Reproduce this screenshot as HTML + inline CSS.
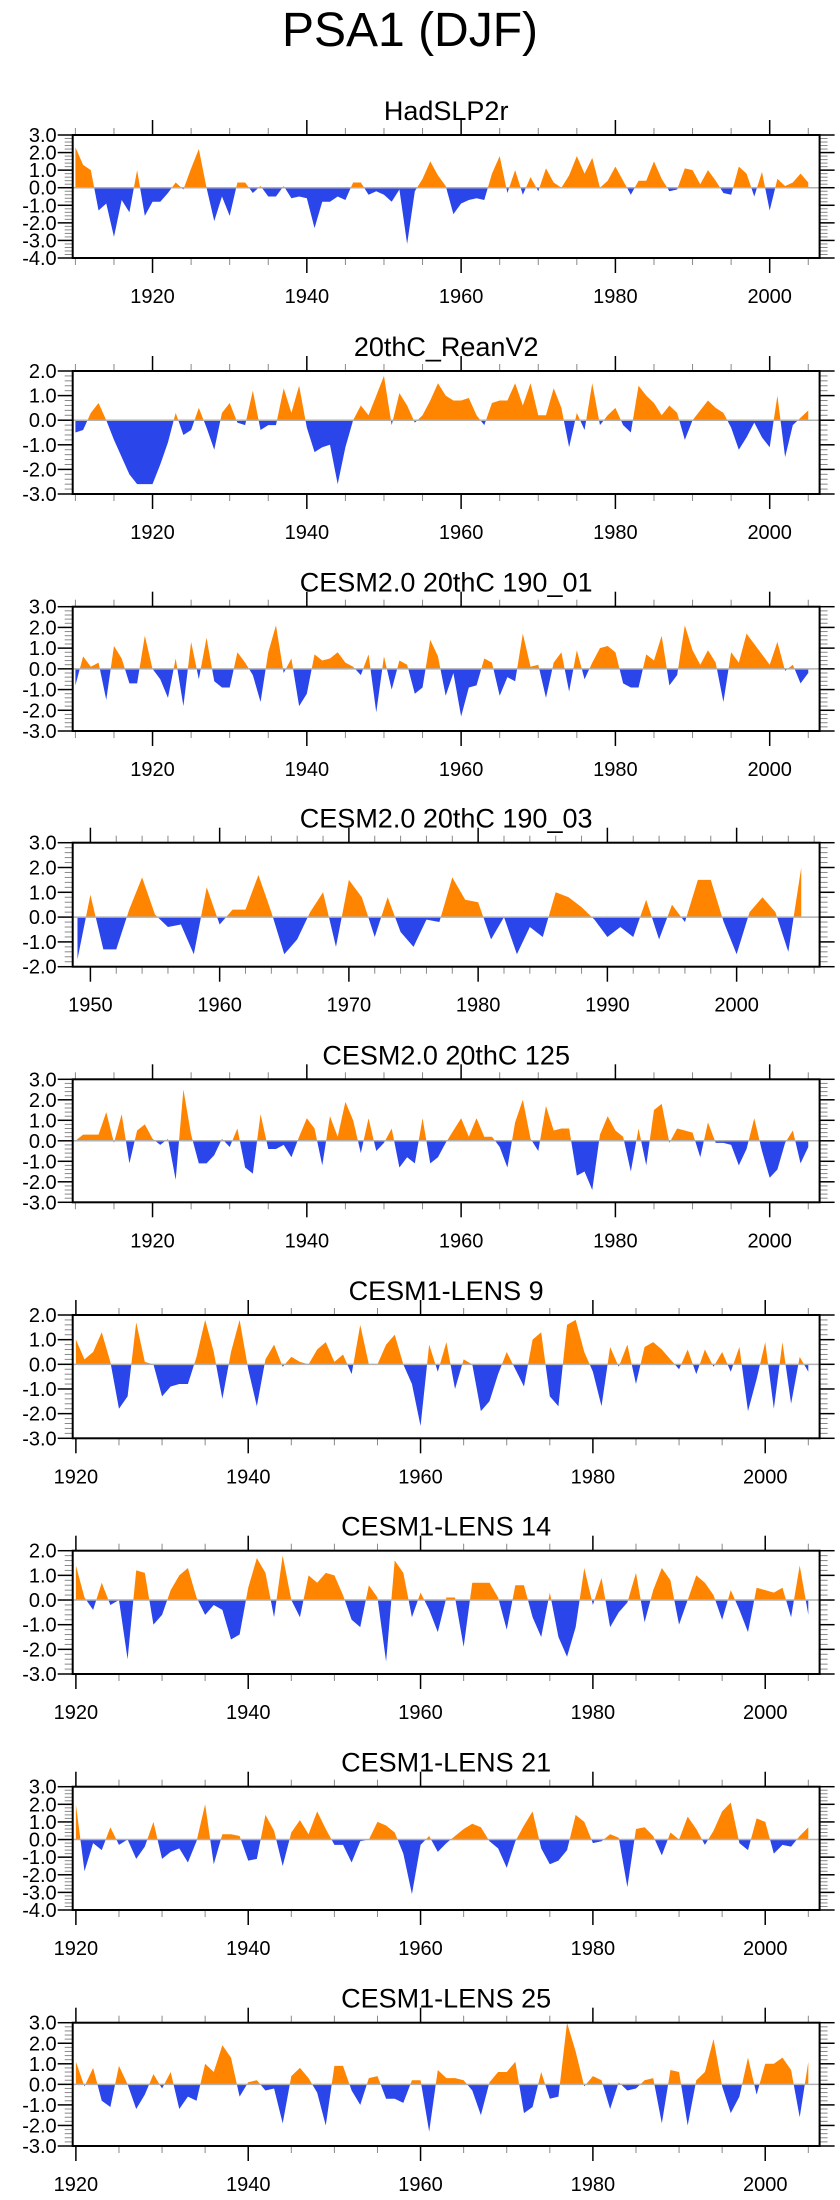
<!DOCTYPE html>
<html>
<head>
<meta charset="utf-8">
<style>
html,body{margin:0;padding:0;background:#fff;}
svg{display:block;}
text{font-family:"Liberation Sans",Arial,sans-serif;fill:#000;}
</style>
</head>
<body>
<svg id="chart" width="840" height="2200" viewBox="0 0 840 2200" xmlns="http://www.w3.org/2000/svg">
<text x="410" y="46" font-size="48" text-anchor="middle">PSA1 (DJF)</text>
</svg>
<script>
// ---- data ----
const yearsA = Array.from({length:96},(_,i)=>1910+i);
const yearsB = Array.from({length:57},(_,i)=>1949+i);
const yearsC = Array.from({length:86},(_,i)=>1920+i);

const hadslp2r = [2.3,1.3,1.0,-1.3,-0.9,-2.8,-0.7,-1.4,1.0,-1.6,-0.8,-0.8,-0.3,0.3,-0.1,1.1,2.2,0.0,-1.9,-0.5,-1.6,0.3,0.3,-0.3,0.1,-0.5,-0.5,0.1,-0.6,-0.5,-0.6,-2.3,-0.8,-0.8,-0.5,-0.7,0.3,0.3,-0.4,-0.2,-0.4,-0.8,-0.1,-3.2,-0.2,0.5,1.5,0.7,0.1,-1.5,-0.9,-0.7,-0.6,-0.7,0.8,1.8,-0.3,1.0,-0.4,0.6,-0.2,1.1,0.3,0.0,0.7,1.8,0.8,1.7,0.0,0.4,1.2,0.4,-0.4,0.4,0.4,1.5,0.5,-0.2,-0.1,1.1,1.0,0.2,1.0,0.4,-0.3,-0.4,1.2,0.8,-0.5,0.9,-1.3,0.5,0.1,0.3,0.8,0.3];
const reanV2 = [-0.5,-0.4,0.3,0.7,0.0,-0.8,-1.5,-2.2,-2.6,-2.6,-2.6,-1.8,-0.9,0.3,-0.6,-0.4,0.5,-0.3,-1.2,0.3,0.7,-0.1,-0.2,1.2,-0.4,-0.2,-0.2,1.3,0.3,1.4,-0.3,-1.3,-1.1,-1.0,-2.6,-1.1,0.0,0.6,0.2,1.0,1.8,-0.2,1.1,0.6,-0.1,0.2,0.8,1.5,1.0,0.8,0.8,0.9,0.2,-0.2,0.7,0.8,0.8,1.5,0.6,1.5,0.2,0.2,1.3,0.5,-1.1,0.3,-0.4,1.5,-0.2,0.2,0.5,-0.2,-0.5,1.4,1.0,0.7,0.2,0.6,0.3,-0.8,0.0,0.4,0.8,0.5,0.3,-0.3,-1.2,-0.7,-0.1,-0.7,-1.1,1.0,-1.5,-0.2,0.1,0.4];
const cesm2_190_01 = [-0.8,0.6,0.1,0.3,-1.5,1.1,0.5,-0.7,-0.7,1.6,0.0,-0.5,-1.4,0.5,-1.8,1.3,-0.5,1.5,-0.6,-0.9,-0.9,0.8,0.3,-0.3,-1.6,0.8,2.1,-0.2,0.5,-1.8,-1.2,0.7,0.4,0.5,0.8,0.3,0.1,-0.3,0.7,-2.1,0.6,-1.0,0.4,0.2,-1.2,-0.9,1.4,0.6,-1.3,-0.2,-2.3,-0.9,-0.8,0.5,0.3,-1.3,-0.4,-0.6,1.7,0.1,0.2,-1.4,0.3,0.8,-1.1,0.9,-0.5,0.3,1.0,1.1,0.8,-0.7,-0.9,-0.9,0.7,0.4,1.6,-0.8,-0.3,2.1,0.9,0.2,0.9,0.3,-1.6,0.8,0.3,1.7,1.2,0.7,0.2,1.3,-0.1,0.2,-0.7,-0.2];
const cesm2_190_03 = [-1.7,0.9,-1.3,-1.3,0.3,1.6,0.1,-0.4,-0.3,-1.5,1.2,-0.3,0.3,0.3,1.7,0.2,-1.5,-0.9,0.2,1.0,-1.2,1.5,0.8,-0.8,0.8,-0.6,-1.2,-0.1,-0.2,1.6,0.7,0.6,-0.9,0.0,-1.5,-0.4,-0.8,1.0,0.8,0.4,-0.1,-0.8,-0.4,-0.8,0.7,-0.9,0.5,-0.2,1.5,1.5,-0.2,-1.5,0.2,0.8,0.2,-1.4,2.0];
const cesm2_125 = [0.0,0.3,0.3,0.3,1.4,-0.1,1.3,-1.1,0.5,0.8,0.1,-0.2,0.1,-1.9,2.5,0.3,-1.1,-1.1,-0.7,0.1,-0.3,0.6,-1.3,-1.6,1.3,-0.4,-0.4,-0.2,-0.8,0.2,1.1,0.6,-1.2,1.2,0.2,1.9,1.0,-0.6,1.1,-0.5,-0.1,0.6,-1.3,-0.8,-1.1,1.1,-1.1,-0.8,-0.1,0.5,1.1,0.2,1.1,0.2,0.2,-0.3,-1.3,0.9,2.0,0.1,-0.5,1.7,0.5,0.6,0.6,-1.7,-1.5,-2.4,0.3,1.2,0.5,0.2,-1.5,0.6,-1.2,1.5,1.8,-0.1,0.6,0.5,0.4,-0.8,0.9,-0.1,-0.1,-0.2,-1.2,-0.4,1.1,-0.5,-1.8,-1.4,-0.1,0.5,-1.1,-0.3];
const lens9 = [1.0,0.2,0.5,1.3,0.1,-1.8,-1.3,1.7,0.1,0.0,-1.3,-0.9,-0.8,-0.8,0.3,1.8,0.5,-1.4,0.5,1.8,-0.2,-1.7,0.2,0.8,-0.1,0.3,0.1,0.0,0.6,0.9,0.1,0.4,-0.4,1.6,0.0,0.0,0.8,1.2,0.0,-0.8,-2.5,0.8,-0.3,0.9,-1.0,0.2,0.0,-1.9,-1.5,-0.4,0.5,-0.2,-0.9,1.0,1.3,-1.3,-1.7,1.6,1.8,0.5,-0.3,-1.7,0.7,-0.1,0.8,-0.8,0.7,0.9,0.6,0.2,-0.2,0.6,-0.4,0.6,-0.1,0.5,-0.3,0.7,-1.9,-0.6,0.9,-1.8,0.9,-1.6,0.3,-0.3];
const lens14 = [1.4,0.1,-0.4,0.7,-0.2,0.0,-2.4,1.2,1.1,-1.0,-0.6,0.4,1.0,1.3,0.1,-0.6,-0.2,-0.4,-1.6,-1.4,0.5,1.7,1.1,-0.7,1.8,0.0,-0.7,1.0,0.7,1.1,1.0,0.2,-0.8,-1.1,0.6,0.1,-2.5,1.6,1.1,-0.7,0.3,-0.4,-1.3,0.1,0.1,-1.9,0.7,0.7,0.7,0.1,-1.2,0.6,0.6,-0.7,-1.5,0.3,-1.5,-2.3,-1.1,1.3,-0.2,0.9,-1.1,-0.5,-0.1,1.1,-0.9,0.4,1.3,0.8,-1.0,0.0,1.0,0.7,0.2,-0.8,0.4,-0.4,-1.3,0.5,0.4,0.3,0.5,-0.7,1.4,-0.6];
const lens21 = [2.0,-1.8,-0.2,-0.6,0.7,-0.3,0.0,-1.1,-0.4,1.0,-1.1,-0.7,-0.5,-1.3,-0.1,2.0,-1.4,0.3,0.3,0.2,-1.2,-1.1,1.4,0.5,-1.5,0.4,1.1,0.3,1.6,0.6,-0.3,-0.3,-1.3,-0.1,0.0,1.0,0.8,0.4,-0.8,-3.1,-0.3,0.2,-0.7,-0.2,0.2,0.6,0.9,0.7,-0.1,-0.5,-1.6,-0.1,0.8,1.6,-0.5,-1.4,-1.2,-0.6,1.4,1.0,-0.2,-0.1,0.3,0.1,-2.7,0.6,0.7,0.2,-0.9,0.4,0.0,1.3,0.6,-0.3,0.5,1.6,2.1,-0.2,-0.6,1.2,1.0,-0.8,-0.3,-0.4,0.2,0.7];
const lens25 = [1.1,-0.1,0.8,-0.8,-1.1,0.9,0.0,-1.2,-0.5,0.5,-0.2,0.6,-1.2,-0.6,-0.8,1.0,0.6,1.9,1.3,-0.6,0.1,0.2,-0.3,-0.2,-1.9,0.4,0.8,0.3,-0.4,-2.0,0.9,0.9,-0.3,-1.0,0.3,0.4,-0.7,-0.7,-0.9,0.2,0.2,-2.3,0.7,0.3,0.3,0.2,-0.3,-1.5,0.1,0.6,0.6,1.1,-1.4,-1.1,0.6,-0.7,-0.6,3.0,1.6,-0.1,0.4,0.2,-1.2,0.1,-0.3,-0.2,0.2,0.3,-1.9,0.7,0.6,-2.0,0.2,0.6,2.2,-0.1,-1.4,-0.6,1.3,-0.5,1.0,1.0,1.3,0.7,-1.6,1.1];

const panelTitles = ["HadSLP2r","20thC_ReanV2","CESM2.0 20thC 190_01","CESM2.0 20thC 190_03","CESM2.0 20thC 125","CESM1-LENS 9","CESM1-LENS 14","CESM1-LENS 21","CESM1-LENS 25"];
const yTickLabelsA = ["-4.0","-3.0","-2.0","-1.0","0.0","1.0","2.0","3.0"];

// ---- layout ----
const NS = "http://www.w3.org/2000/svg";
const svg = document.getElementById('chart');
const L = 72.7, R = 819.6;
const panels = [
  {title:panelTitles[0], years:yearsA, vals:hadslp2r, top:135, bot:258, ymin:-4, ymax:3, x0:1909.65, x1:2006.47, major:20, minor:5, first:1920},
  {title:panelTitles[1], years:yearsA, vals:reanV2, top:371, bot:494, ymin:-3, ymax:2, x0:1909.65, x1:2006.47, major:20, minor:5, first:1920},
  {title:panelTitles[2], years:yearsA, vals:cesm2_190_01, top:606.7, bot:731, ymin:-3, ymax:3, x0:1909.65, x1:2006.47, major:20, minor:5, first:1920},
  {title:panelTitles[3], years:yearsB, vals:cesm2_190_03, top:842.7, bot:966.7, ymin:-2, ymax:3, x0:1948.63, x1:2006.42, major:10, minor:2, first:1950},
  {title:panelTitles[4], years:yearsA, vals:cesm2_125, top:1079.3, bot:1202.3, ymin:-3, ymax:3, x0:1909.65, x1:2006.47, major:20, minor:5, first:1920},
  {title:panelTitles[5], years:yearsC, vals:lens9, top:1315, bot:1438.3, ymin:-3, ymax:2, x0:1919.63, x1:2006.31, major:20, minor:5, first:1920},
  {title:panelTitles[6], years:yearsC, vals:lens14, top:1550.7, bot:1674, ymin:-3, ymax:2, x0:1919.63, x1:2006.31, major:20, minor:5, first:1920},
  {title:panelTitles[7], years:yearsC, vals:lens21, top:1786.7, bot:1910, ymin:-4, ymax:3, x0:1919.63, x1:2006.31, major:20, minor:5, first:1920},
  {title:panelTitles[8], years:yearsC, vals:lens25, top:2022.7, bot:2146, ymin:-3, ymax:3, x0:1919.63, x1:2006.31, major:20, minor:5, first:1920}
];

function mk(tag, attrs, parent){
  const e = document.createElementNS(NS, tag);
  for (const k in attrs) e.setAttribute(k, attrs[k]);
  (parent||svg).appendChild(e);
  return e;
}

panels.forEach((p, pi) => {
  const g = mk('g', {});
  
  
  const xs = yr => L + (yr - p.x0) / (p.x1 - p.x0) * (R - L);
  const ys = v => p.bot - (v - p.ymin) / (p.ymax - p.ymin) * (p.bot - p.top);
  const y0 = ys(0);

  const t = mk('text', {x:(L+R)/2, y:p.top - 15, 'font-size':27, 'text-anchor':'middle'}, g);
  t.textContent = p.title;
  
  

  const defs = mk('defs', {}, g);
  const cu = mk('clipPath', {id:'cu'+pi}, defs);
  mk('rect', {x:L, y:p.top, width:R-L, height:y0-p.top}, cu);
  const cd = mk('clipPath', {id:'cd'+pi}, defs);
  mk('rect', {x:L, y:y0, width:R-L, height:p.bot-y0}, cd);

  let d = 'M' + xs(p.years[0]).toFixed(2) + ',' + y0.toFixed(2);
  p.years.forEach((yr, i) => { d += ' L' + xs(yr).toFixed(2) + ',' + ys(p.vals[i]).toFixed(2); });
  d += ' L' + xs(p.years[p.years.length-1]).toFixed(2) + ',' + y0.toFixed(2) + ' Z';

  const pos = mk('path', {d:d, fill:'#ff8400', 'clip-path':'url(#cu'+pi+')'}, g);
  
  
  const neg = mk('path', {d:d, fill:'#2a45ea', 'clip-path':'url(#cd'+pi+')'}, g);
  
  

  const zl = mk('line', {x1:L, x2:R, y1:y0, y2:y0, stroke:'#b0b0b0', 'stroke-width':1.5}, g);
  
  

  for (let v = p.ymin; v <= p.ymax + 1e-6; v += 0.2) {
    const vv = Math.round(v*10)/10;
    const isMajor = Math.abs(vv - Math.round(vv)) < 1e-6;
    const yy = ys(vv);
    const len = isMajor ? 15 : 8;
    const col = isMajor ? '#000' : '#888';
    mk('line', {x1:L-len, x2:L, y1:yy, y2:yy, stroke:col, 'stroke-width':isMajor?1.5:1}, g);
    mk('line', {x1:R, x2:R+len, y1:yy, y2:yy, stroke:col, 'stroke-width':isMajor?1.5:1}, g);
    if (isMajor) {
      const lab = mk('text', {x:L-16, y:yy+7, 'font-size':20, 'text-anchor':'end'}, g);
      lab.textContent = yTickLabelsA[Math.round(vv)+4];
      
      
    }
  }
  const startMinor = Math.ceil(p.x0 / p.minor) * p.minor;
  for (let yr = startMinor; yr <= p.x1; yr += p.minor) {
    const isMajor = (yr - p.first) % p.major === 0;
    const xx = xs(yr);
    const len = isMajor ? 15 : 7;
    const col = isMajor ? '#000' : '#888';
    mk('line', {x1:xx, x2:xx, y1:p.top-len, y2:p.top, stroke:col, 'stroke-width':isMajor?1.5:1}, g);
    mk('line', {x1:xx, x2:xx, y1:p.bot, y2:p.bot+len, stroke:col, 'stroke-width':isMajor?1.5:1}, g);
    if (isMajor) {
      const lab = mk('text', {x:xx, y:p.bot+45, 'font-size':20, 'text-anchor':'middle'}, g);
      lab.textContent = String(yr);
      
      
    }
  }
  const fr = mk('rect', {x:L, y:p.top, width:R-L, height:p.bot-p.top, fill:'none', stroke:'#000', 'stroke-width':2}, g);
  
  
});
</script>
</body>
</html>
